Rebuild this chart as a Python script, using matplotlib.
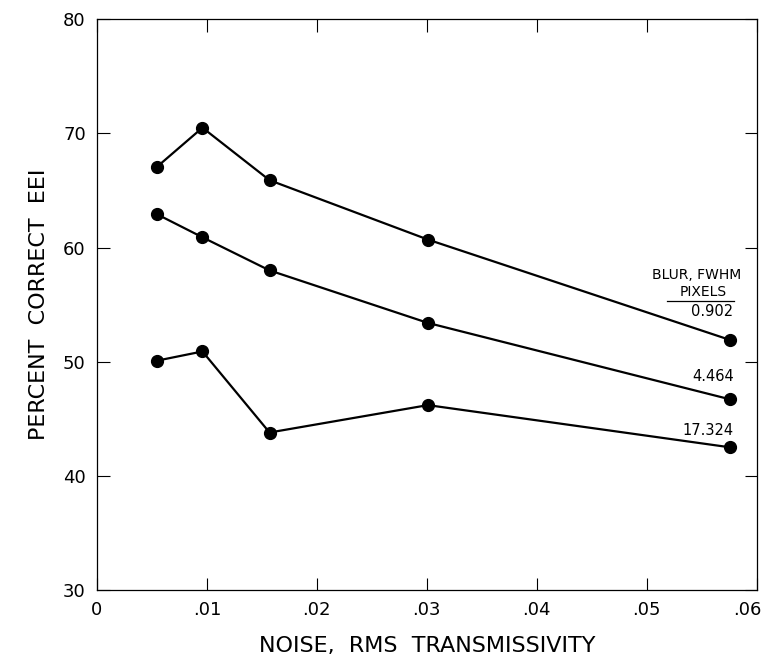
import numpy as np
from matplotlib import pyplot as plt
from matplotlib.transforms import ScaledTranslation

# noise levels (rms transmissivity) shared by all three curves
noise = [0.0055, 0.0096, 0.0157, 0.0301, 0.0576]

# percent correct EEI for each blur (FWHM, pixels)
blur_labels = ["0.902", "4.464", "17.324"]
pc_0902 = [67.1, 70.5, 65.9, 60.7, 51.9]
pc_4464 = [62.9, 60.9, 58.0, 53.4, 46.7]
pc_17324 = [50.1, 50.9, 43.8, 46.2, 42.5]

xticks = [0, 0.01, 0.02, 0.03, 0.04, 0.05, 0.06]
xtick_labels = ["0", ".01", ".02", ".03", ".04", ".05", ".06"]
yticks = [30, 40, 50, 60, 70, 80]

plt.rcParams['font.family'] = ['DejaVu Sans']

fig = plt.figure(figsize=(7.69, 6.63), dpi=100)
ax = fig.add_axes([0.126, 0.110, 0.858, 0.861])

for vals in (pc_0902, pc_4464, pc_17324):
    ax.plot(noise, vals, color='black', lw=1.6, marker='o', ms=8.5)

ax.set_xlim(0, 0.06)
ax.set_ylim(30, 80)
ax.set_xticks(xticks)
ax.set_xticklabels(xtick_labels)
ax.set_yticks(yticks)
ax.tick_params(direction='in', length=9, width=0.8, top=True, right=True,
               labelsize=13, pad=8, colors='black')
for s in ax.spines.values():
    s.set_linewidth(0.9)

# last x label sits right at the page edge, nudge it in a little
last = ax.get_xticklabels()[-1]
last.set_transform(last.get_transform() + ScaledTranslation(-7 / 72, 0, fig.dpi_scale_trans))

ax.set_xlabel("NOISE,  RMS  TRANSMISSIVITY", fontsize=16, labelpad=12)
ax.set_ylabel("PERCENT  CORRECT  EEI", fontsize=16, labelpad=10)

# blur key written at the right-hand ends of the curves
ax.text(0.0586, 57.6, "BLUR, FWHM", ha='right', va='center', fontsize=10)
ax.text(0.0573, 56.1, "PIXELS", ha='right', va='center', fontsize=10)
ax.plot([0.0518, 0.0579], [55.3, 55.3], color='black', lw=0.9)
label_y = [54.4, 48.7, 44.0]
for lab, yy in zip(blur_labels, label_y):
    ax.text(0.0579, yy, lab, ha='right', va='center', fontsize=10.5)

fig.savefig('out.png', dpi=100)
